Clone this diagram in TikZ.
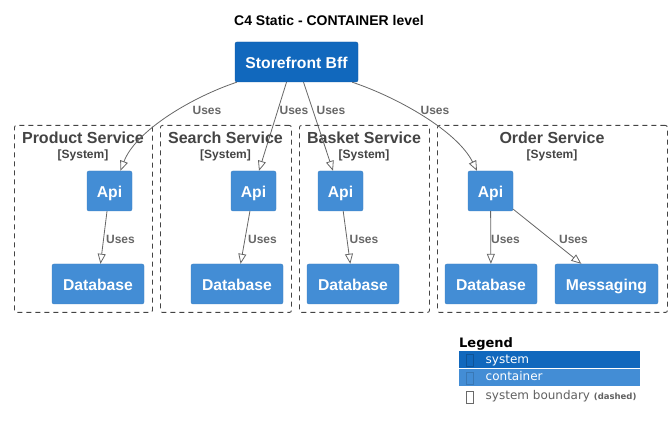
\documentclass[tikz,border=0pt]{standalone}
\usepackage{fontspec}
\setmainfont{Liberation Sans}
\newfontfamily\legendfont{DejaVu Sans}
\usetikzlibrary{arrows.meta}
\definecolor{sysblue}{HTML}{1168BD}
\definecolor{contblue}{HTML}{438DD5}
\definecolor{bndgray}{HTML}{444444}
\definecolor{relgray}{HTML}{666666}
\tikzset{
	sysbox/.style={draw=sysblue!85!black, fill=sysblue, rounded corners=2pt, text=white, font=\fontsize{15.7}{18}\selectfont\bfseries, minimum width=123pt, minimum height=40pt, inner sep=0pt, text height=14.5pt, text depth=2pt},
	contbox/.style={draw=contblue!90!black, fill=contblue, rounded corners=2pt, text=white, font=\fontsize{15.7}{18}\selectfont\bfseries, minimum height=40pt, inner sep=0pt, text height=14.5pt, text depth=2pt},
	boundary/.style={draw=bndgray, line width=0.9pt, dash pattern=on 5pt off 4pt, rounded corners=2pt, anchor=north west, inner sep=0pt, minimum height=187pt},
	rel/.style={draw=relgray, line width=0.8pt, -{Triangle[open, length=10pt, width=8pt]}},
	uses/.style={text=relgray, font=\fontsize{12}{14}\selectfont\bfseries, inner sep=0pt},
	legrow/.style={anchor=north west, minimum width=181pt, minimum height=17pt, inner sep=0pt},
	legicon/.style={draw=#1, line width=0.7pt, minimum width=7pt, minimum height=12pt, inner sep=0pt},
	legtext/.style={anchor=west, inner sep=0pt, font=\legendfont\fontsize{12}{14}\selectfont, text height=9pt, text depth=2.5pt}
}
% dashed system boundary with its title
\newcommand\SystemBoundary[4]{
	\node [boundary, minimum width=#3] (#1) at (#2,125) {};
	\node [text=bndgray, font=\fontsize{16}{18}\selectfont\bfseries, inner sep=0pt] (#1_title) at (#2+#3/2,138) {#4};
	\node [text=bndgray, font=\fontsize{12}{14}\selectfont\bfseries, inner sep=0pt] (#1_tag) at (#2+#3/2,155) {[System]};
}

\begin{document}
\begin{tikzpicture}[x=1pt, y=-1pt]
	\useasboundingbox (0,0) rectangle (672,430);
	\node [font=\fontsize{14}{16}\selectfont\bfseries, inner sep=0pt] (title) at (329,20) {C4 Static - CONTAINER level};

	\node [sysbox] (bff) at (296.5,62) {Storefront Bff};

% boundaries
	\SystemBoundary{product}{14}{138}{Product Service}
	\SystemBoundary{search}{160}{131}{Search Service}
	\SystemBoundary{basket}{299}{130}{Basket Service}
	\SystemBoundary{order}{437}{230}{Order Service}

% containers
	\node [contbox, minimum width=45pt] (product_api) at (109.5,191) {Api};
	\node [contbox, minimum width=45pt] (search_api) at (253.5,191) {Api};
	\node [contbox, minimum width=45pt] (basket_api) at (340.5,191) {Api};
	\node [contbox, minimum width=45pt] (order_api) at (490.5,191) {Api};
	\node [contbox, minimum width=92pt] (product_db) at (98,284) {Database};
	\node [contbox, minimum width=92pt] (search_db) at (237,284) {Database};
	\node [contbox, minimum width=92pt] (basket_db) at (353,284) {Database};
	\node [contbox, minimum width=92pt] (order_db) at (491,284) {Database};
	\node [contbox, minimum width=103pt] (order_msg) at (606.5,284) {Messaging};

% relations
	\draw [rel] ([xshift=2pt]bff.south west) .. controls +(-45,15) and +(15,-40) .. ([xshift=11pt]product_api.north);
	\draw [rel] ([xshift=-10pt]bff.south) -- ([xshift=5.5pt]search_api.north);
	\draw [rel] ([xshift=7pt]bff.south) -- ([xshift=-7.5pt]basket_api.north);
	\draw [rel] ([xshift=-6pt]bff.south east) .. controls +(45,15) and +(-20,-40) .. ([xshift=-13.5pt]order_api.north);
	\draw [rel] (product_api) -- (product_db);
	\draw [rel] (search_api) -- (search_db);
	\draw [rel] (basket_api) -- (basket_db);
	\draw [rel] (order_api) -- (order_db);
	\draw [rel] (order_api) -- (order_msg);

	\node [uses] (uses_product) at (207,110) {Uses};
	\node [uses] (uses_search) at (294,110) {Uses};
	\node [uses] (uses_basket) at (331,110) {Uses};
	\node [uses] (uses_order) at (435,110) {Uses};
	\node [uses] (uses_product_db) at (120.5,239) {Uses};
	\node [uses] (uses_search_db) at (262.5,239) {Uses};
	\node [uses] (uses_basket_db) at (364,239) {Uses};
	\node [uses] (uses_order_db) at (505.5,239) {Uses};
	\node [uses] (uses_order_msg) at (573.5,239) {Uses};

% legend
	\node [anchor=west, inner sep=0pt, font=\legendfont\fontsize{13}{15}\selectfont\bfseries] (legend) at (459,344) {Legend};
	\node [legrow, fill=sysblue] (leg_system) at (459,351) {};
	\node [legrow, fill=contblue] (leg_container) at (459,368.5) {};
	\node [legicon=sysblue!80!black] (leg_system_icon) at (470,360.5) {};
	\node [legtext, text=white] (leg_system_text) at (485.5,360) {system};
	\node [legicon=contblue!85!black] (leg_container_icon) at (470,378) {};
	\node [legtext, text=white] (leg_container_text) at (485.5,377.5) {container};
	\node [legicon=bndgray!80!white] (leg_boundary_icon) at (470,397) {};
	\node [legtext, text=bndgray!85!white] (leg_boundary_text) at (485.5,396.5) {system boundary \fontsize{8.5}{10}\selectfont\bfseries(dashed)};
\end{tikzpicture}
\end{document}
